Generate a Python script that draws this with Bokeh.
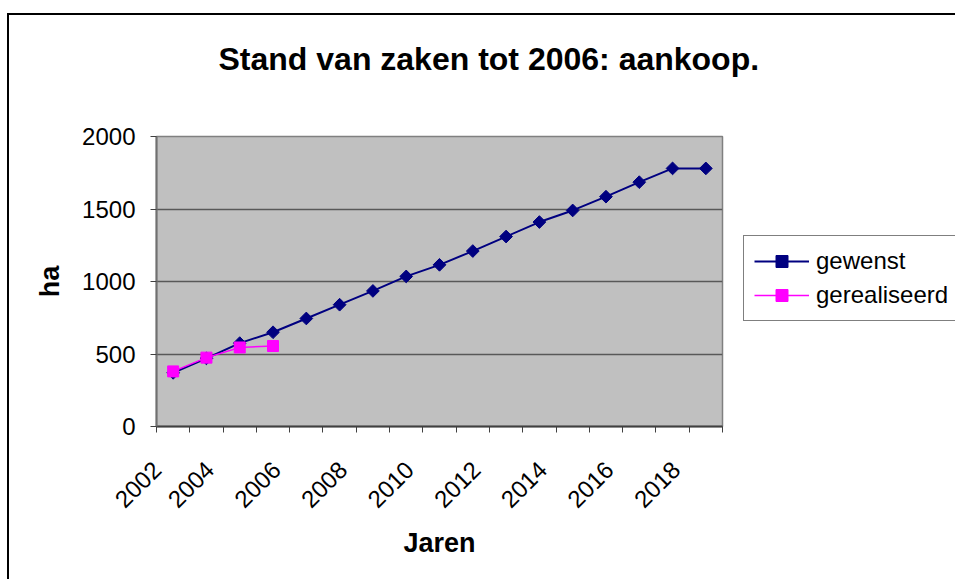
import math
from bokeh.plotting import figure
from bokeh.layouts import column
from bokeh.models import (Range1d, FixedTicker, Legend, LegendItem,
                          CustomJSTickFormatter, Title)
from bokeh.embed import file_html
from bokeh.resources import INLINE

# ---- data ----
jaren = [2002, 2003, 2004, 2005, 2006, 2007, 2008, 2009, 2010,
         2011, 2012, 2013, 2014, 2015, 2016, 2017, 2018]
gewenst = [370, 470, 575, 650, 745, 840, 935, 1035, 1115,
           1210, 1310, 1410, 1490, 1585, 1685, 1780, 1780]
gerealiseerd_jaren = [2002, 2003, 2004, 2005]
gerealiseerd = [380, 475, 545, 555]
x_tick_labels = [2002, 2004, 2006, 2008, 2010, 2012, 2014, 2016, 2018]
x_boundaries = [2001.5, 2002.5, 2003.5, 2004.5, 2005.5, 2006.5, 2007.5, 2008.5, 2009.5,
                2010.5, 2011.5, 2012.5, 2013.5, 2014.5, 2015.5, 2016.5, 2017.5, 2018.5]
y_ticks = [0, 500, 1000, 1500, 2000]

FONT = "Liberation Sans"
# rotated labels end near their category (Excel style): shift label anchors left
label_anchors = [t - (0.49 if i == 0 else 0.9) for i, t in enumerate(x_tick_labels)]

p = figure(frame_width=566, frame_height=290, output_backend="svg", toolbar_location=None,
           x_range=Range1d(2001.5, 2018.5), y_range=Range1d(0, 2000),
           min_border_left=156, min_border_right=20,
           min_border_top=136, min_border_bottom=153,
           title="Stand van zaken tot 2006: aankoop.")
p.border_fill_color = None

p.title.align = "left"
p.title.offset = 62
p.title.standoff = 10
p.title.text_font = FONT
p.title.text_font_size = "32px"
p.title.text_font_style = "bold"
p.title.text_color = "black"

# empty spacer between the title and the plot area
p.add_layout(Title(text=" ", text_font_size="10px", standoff=42,
                   text_color="white"), "above")

p.background_fill_color = "#C0C0C0"
p.outline_line_color = "#808080"
p.outline_line_width = 1.5

# grids
p.xgrid.visible = False
p.ygrid.ticker = FixedTicker(ticks=y_ticks)
p.ygrid.grid_line_color = "#585858"
p.ygrid.grid_line_width = 1.3

# x axis
xa = p.xaxis[0]
xa.ticker = FixedTicker(ticks=label_anchors, minor_ticks=x_boundaries)
xa.formatter = CustomJSTickFormatter(code="return String(2*Math.ceil(tick/2));")
xa.major_tick_out = 0
xa.major_tick_in = 0
xa.minor_tick_out = 6
xa.minor_tick_in = 0
xa.minor_tick_line_color = "#404040"
xa.axis_line_color = "#404040"
xa.axis_line_width = 2
xa.major_label_orientation = math.pi / 4
xa.major_label_standoff = 33
xa.major_label_text_font = FONT
xa.major_label_text_font_size = "24px"
xa.major_label_text_color = "black"
xa.axis_label = "Jaren"
xa.axis_label_text_font = FONT
xa.axis_label_text_font_size = "27px"
xa.axis_label_text_font_style = "bold"
xa.axis_label_text_color = "black"
xa.axis_label_standoff = 10

# y axis
ya = p.yaxis[0]
ya.ticker = FixedTicker(ticks=y_ticks)
ya.major_tick_out = 6
ya.major_tick_in = 0
ya.minor_tick_out = 0
ya.minor_tick_in = 0
ya.major_tick_line_color = "#404040"
ya.axis_line_color = "#707070"
ya.axis_line_width = 2
ya.major_label_standoff = 15
ya.major_label_text_font = FONT
ya.major_label_text_font_size = "24px"
ya.major_label_text_color = "black"
ya.axis_label = "ha"
ya.axis_label_text_font = FONT
ya.axis_label_text_font_size = "27px"
ya.axis_label_text_font_style = "bold"
ya.axis_label_text_color = "black"
ya.axis_label_standoff = 14

# series
l1 = p.line(jaren, gewenst, line_color="#000080", line_width=2)
m1 = p.scatter(jaren, gewenst, marker="square", angle=math.pi / 4, size=9,
               fill_color="#000080", line_color="#000080")
l2 = p.line(gerealiseerd_jaren, gerealiseerd, line_color="#FF00FF", line_width=1.5)
m2 = p.scatter(gerealiseerd_jaren, gerealiseerd, marker="square", size=11,
               fill_color="#FF00FF", line_color="#FF00FF")

legend = Legend(items=[LegendItem(label="gewenst", renderers=[l1, m1]),
                       LegendItem(label="gerealiseerd", renderers=[l2, m2])],
                location=(21, 105))
legend.label_text_font = FONT
legend.label_text_font_size = "24px"
legend.label_text_color = "black"
legend.glyph_width = 55
legend.glyph_height = 30
legend.label_height = 30
legend.label_standoff = 7
legend.spacing = 4
legend.padding = 10
legend.margin = 0
legend.border_line_color = "black"
legend.border_line_width = 1
legend.background_fill_color = "white"
legend.background_fill_alpha = 1
p.add_layout(legend, "right")

# chart-area border (only its top and left edges are visible in the reference),
# drawn as the background of a wrapping layout behind the transparent canvas border
page = column(p, styles={"background": (
    "linear-gradient(#000000, #000000) 7px 13px / 2px 100% no-repeat, "
    "linear-gradient(#000000, #000000) 7px 13px / 100% 2px no-repeat, "
    "#ffffff")})

open("out.html", "w").write(file_html(page, INLINE))
